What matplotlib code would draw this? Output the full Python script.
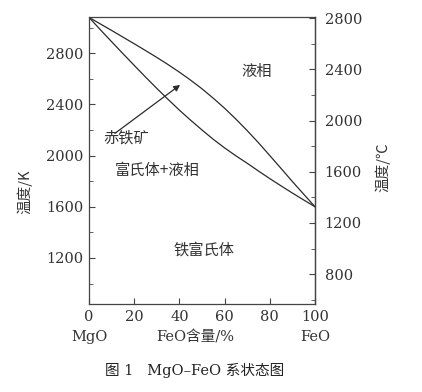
import matplotlib
matplotlib.use("Agg")
import matplotlib.pyplot as plt
from matplotlib.ticker import MultipleLocator

# FeO content (%) and temperatures (K)
feo_pct = [0, 5, 10, 15, 20, 25, 30, 35, 40, 45, 50,
           55, 60, 65, 70, 75, 80, 85, 90, 95, 100]
liquidus_k = [3080, 3029, 2978, 2926, 2874, 2821, 2767, 2711, 2652, 2589, 2522,
              2448, 2370, 2285, 2195, 2100, 2000, 1899, 1797, 1698, 1600]
solidus_k = [3080, 2984, 2890, 2797, 2705, 2614, 2525, 2439, 2355, 2276, 2200,
             2127, 2060, 1998, 1940, 1879, 1820, 1763, 1707, 1653, 1600]

k_ticks = [1200, 1600, 2000, 2400, 2800]
c_ticks = [800, 1200, 1600, 2000, 2400, 2800]
x_ticks = [0, 20, 40, 60, 80, 100]

# region labels: (text, x, y in K)
regions = [
    ("液相", 74, 2656),
    ("富氏体+液相", 30, 1886),
    ("铁富氏体", 51, 1260),
]
arrow_label = ("赤铁矿", 16.5, 2135)
arrow_tail = (11.5, 2174)
arrow_head = (40.3, 2552)

ink = "#2b2b2b"
cjk = ["Noto Sans CJK SC", "DejaVu Sans"]
num = ["DejaVu Serif", "Noto Sans CJK SC"]

fig = plt.figure(figsize=(4.22, 3.92), dpi=100)
ax = fig.add_axes([89 / 422, 1 - 304 / 392, 226 / 422, 287 / 392])

ax.plot(feo_pct, liquidus_k, color=ink, lw=0.9)
ax.plot(feo_pct, solidus_k, color=ink, lw=0.9)

ax.set_xlim(0, 100)
ax.set_ylim(840, 3083)

for s in ax.spines.values():
    s.set_color("#444444")
    s.set_linewidth(0.9)

ax.set_xticks(x_ticks)
ax.set_yticks(k_ticks)
ax.yaxis.set_minor_locator(MultipleLocator(200))
ax.tick_params(axis="both", which="both", direction="in", color="#444444", top=False, right=False)
ax.tick_params(axis="both", which="major", length=4, pad=4, labelsize=10.5, labelcolor="#333333")
ax.tick_params(axis="y", which="minor", length=3)
for lab in ax.get_xticklabels() + ax.get_yticklabels():
    lab.set_family("DejaVu Serif")

sec = ax.secondary_yaxis("right", functions=(lambda k: k - 273.15, lambda c: c + 273.15))
sec.set_yticks(c_ticks)
sec.yaxis.set_minor_locator(MultipleLocator(200))
sec.tick_params(which="both", direction="in", color="#444444")
sec.tick_params(which="major", length=4, pad=7, labelsize=10.5, labelcolor="#333333")
sec.tick_params(which="minor", length=3)
sec.spines["right"].set_color("#444444")
sec.spines["right"].set_linewidth(0.9)
for lab in sec.get_yticklabels():
    lab.set_family("DejaVu Serif")

for txt, x, y in regions:
    ax.text(x, y, txt, ha="center", va="center", fontsize=11, family=cjk, color="#333333")

ax.text(arrow_label[1], arrow_label[2], arrow_label[0], ha="center", va="center",
        fontsize=11, family=cjk, color="#333333")
ax.annotate("", xy=arrow_head, xytext=arrow_tail,
            arrowprops=dict(arrowstyle="-|>", color=ink, lw=0.9, mutation_scale=9,
                            shrinkA=0, shrinkB=0))

# axis titles
ax.text(-0.283, 0.39, "温度/K", transform=ax.transAxes, rotation=90,
        ha="center", va="center", fontsize=10.5, family=cjk, color="#333333")
ax.text(1.30, 0.477, "温度/℃", transform=ax.transAxes, rotation=90,
        ha="center", va="center", fontsize=10.5, family=cjk, color="#333333")

xt = ax.get_xaxis_transform()
ax.text(x_ticks[0], -0.115, "MgO", transform=xt, ha="center", va="center",
        fontsize=10.5, family=num, color="#333333")
ax.text(x_ticks[-1], -0.115, "FeO", transform=xt, ha="center", va="center",
        fontsize=10.5, family=num, color="#333333")
ax.text(47, -0.115, "FeO含量/%", transform=xt, ha="center", va="center",
        fontsize=10.5, family=num, color="#333333")

fig.text(195 / 422, 1 - 370 / 392, "图 1   MgO–FeO 系状态图", ha="center", va="center",
         fontsize=10.5, family=["DejaVu Serif", "Noto Sans CJK SC"], color="#222222")

fig.savefig("out.png", dpi=100, facecolor="white")
